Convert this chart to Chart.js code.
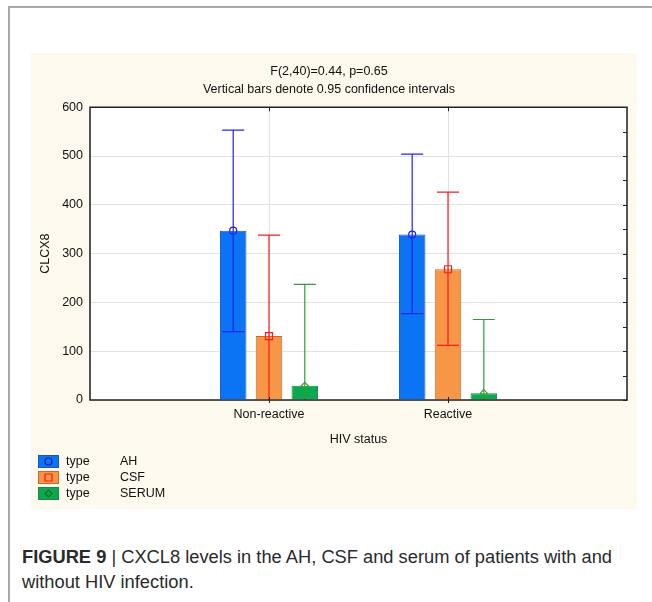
<!DOCTYPE html>
<html>
<head>
<meta charset="utf-8">
<script src="https://cdn.jsdelivr.net/npm/chart.js@4.4.1/dist/chart.umd.min.js"></script>
<style>
    body { margin: 0; background: #fff; width: 652px; height: 602px; overflow: hidden; position: relative; font-family: "Liberation Sans", Arial, sans-serif; }
    #frame { position: absolute; left: 8px; top: 6px; width: 660px; height: 620px; border-top: 2px solid #a8a8a8; border-left: 2px solid #a8a8a8; }
    #panel { position: absolute; left: 31px; top: 53px; width: 606px; height: 456px; background: #fdf9ee; }
    #caption { position: absolute; left: 22px; top: 544px; font-size: 18.3px; line-height: 25px; color: #2a2a2a; white-space: nowrap; }
    #caption b { font-weight: bold; }
</style>
</head>
<body>
<div id="frame"></div>
<div id="panel"><canvas id="chart" width="606" height="456"></canvas></div>
<div id="caption"><b>FIGURE 9</b> | CXCL8 levels in the AH, CSF and serum of patients with and<br>without HIV infection.</div>
<script>
const $ = id => document.getElementById(id);

// 数据
const groups = ['Non-reactive', 'Reactive'];
const yTicks = [0, 100, 200, 300, 400, 500, 600];
const ahMean = [347, 339];
const ahLow = [140, 177];
const ahHigh = [553, 504];
const csfMean = [131, 268];
const csfLow = [-76, 112];
const csfHigh = [338, 426];
const serumMean = [29, 14];
const serumLow = [-179, -137];
const serumHigh = [237, 165];

// 两边各留一个空类别
const pad = arr => [null, ...arr, null];
const labels = ['', ...groups, ''];

const series = [
    {name: 'AH', mean: ahMean, low: ahLow, high: ahHigh, fill: '#0a74f5', border: '#1a55c8', line: '#2222ee', legendMark: '#1a1aa0', marker: 'circle'},
    {name: 'CSF', mean: csfMean, low: csfLow, high: csfHigh, fill: '#f79646', border: '#c46c2c', line: '#ff1a1a', legendMark: '#ff1a1a', marker: 'rect'},
    {name: 'SERUM', mean: serumMean, low: serumLow, high: serumHigh, fill: '#0aa84f', border: '#1b8a3b', line: '#2e9e3a', legendMark: '#156b2a', marker: 'diamond'}
];

const FONT = '"Liberation Sans", Arial, sans-serif';

const drawMarker = (ctx, type, x, y, color) => {
    ctx.save();
    ctx.strokeStyle = color;
    ctx.lineWidth = 1.2;
    ctx.beginPath();
    if (type === 'circle') {
        ctx.arc(x, y, 3.5, 0, Math.PI * 2);
    } else if (type === 'rect') {
        ctx.rect(x - 3.5, y - 3.5, 7, 7);
    } else {
        ctx.moveTo(x, y - 3.5);
        ctx.lineTo(x + 3.5, y);
        ctx.lineTo(x, y + 3.5);
        ctx.lineTo(x - 3.5, y);
        ctx.closePath();
    }
    ctx.stroke();
    ctx.restore();
};

const bgPlugin = {
    id: 'bg',
    beforeDraw(chart) {
        const {ctx, chartArea: a} = chart;
        ctx.save();
        ctx.fillStyle = '#ffffff';
        ctx.fillRect(a.left, a.top, a.right - a.left, a.bottom - a.top);
        ctx.restore();
    }
};

const errorBarPlugin = {
    id: 'errorBars',
    afterDatasetsDraw(chart) {
        const {ctx, chartArea: a, scales: {x, y}} = chart;
        series.forEach((s, di) => {
            const meta = chart.getDatasetMeta(di);
            s.mean.forEach((m, i) => {
                const bx = meta.data[i + 1].x;
                const lo = s.low[i], hi = s.high[i];
                const yTop = y.getPixelForValue(Math.min(hi, y.max));
                const yBot = y.getPixelForValue(Math.max(lo, y.min));
                const cap = 11;
                ctx.save();
                ctx.strokeStyle = s.line;
                ctx.lineWidth = 1.2;
                ctx.beginPath();
                ctx.moveTo(bx, yTop);
                ctx.lineTo(bx, yBot);
                if (hi <= y.max) { ctx.moveTo(bx - cap, yTop); ctx.lineTo(bx + cap, yTop); }
                if (lo >= y.min) { ctx.moveTo(bx - cap, yBot); ctx.lineTo(bx + cap, yBot); }
                ctx.stroke();
                ctx.restore();
                drawMarker(ctx, s.marker, bx, y.getPixelForValue(m), s.line);
            });
        });

        // 边框和刻度
        ctx.save();
        ctx.strokeStyle = '#222';
        ctx.lineWidth = 1.5;
        ctx.strokeRect(a.left, a.top, a.right - a.left, a.bottom - a.top);
        ctx.lineWidth = 1;
        ctx.beginPath();
        for (let v = y.min; v <= y.max; v += 50) {
            const py = Math.round(y.getPixelForValue(v)) + 0.5;
            ctx.moveTo(a.right - 4, py);
            ctx.lineTo(a.right, py);
        }
        groups.forEach((g, i) => {
            const px = Math.round(x.getPixelForValue(i + 1)) + 0.5;
            ctx.moveTo(px, a.top);
            ctx.lineTo(px, a.top + 4);
            ctx.moveTo(px, a.bottom - 3);
            ctx.lineTo(px, a.bottom + 3);
        });
        ctx.stroke();
        ctx.restore();
    }
};

const legendPlugin = {
    id: 'customLegend',
    afterDraw(chart) {
        const {ctx} = chart;
        ctx.save();
        ctx.font = '12.5px ' + FONT;
        ctx.textBaseline = 'middle';
        series.forEach((s, i) => {
            const top = 402 + i * 16;
            ctx.fillStyle = s.fill;
            ctx.fillRect(7, top, 21, 13);
            ctx.strokeStyle = s.border;
            ctx.lineWidth = 1;
            ctx.strokeRect(7.5, top + 0.5, 20, 12);
            drawMarker(ctx, s.marker, 17.5, top + 6.5, s.legendMark);
            ctx.fillStyle = '#111';
            ctx.fillText('type', 35, top + 7);
            ctx.fillText(s.name, 89, top + 7);
        });
        ctx.restore();
    }
};

Chart.defaults.font.family = FONT;
Chart.defaults.font.size = 12.5;
Chart.defaults.color = '#111';

new Chart($('chart').getContext('2d'), {
    type: 'bar',
    data: {
        labels: labels,
        datasets: series.map(s => ({
            label: s.name,
            data: pad(s.mean),
            backgroundColor: s.fill,
            borderColor: s.border,
            borderWidth: 1,
            categoryPercentage: 0.6,
            barPercentage: 0.74
        }))
    },
    options: {
        responsive: false,
        animation: false,
        layout: {padding: {left: 0, right: 10, top: 0, bottom: 62}},
        plugins: {
            legend: {display: false},
            tooltip: {enabled: false},
            title: {
                display: true,
                text: ['F(2,40)=0.44, p=0.65', 'Vertical bars denote 0.95 confidence intervals'],
                font: {size: 12.5, weight: 'normal', lineHeight: 1.45},
                color: '#111',
                padding: {top: 9, bottom: 9}
            }
        },
        scales: {
            x: {
                offset: false,
                grid: {color: '#e2e2e2', drawTicks: false, offset: false},
                border: {display: false},
                ticks: {padding: 7, maxRotation: 0, autoSkip: false},
                title: {display: true, text: 'HIV status', font: {size: 12.5}, padding: {top: 3, bottom: 0}}
            },
            y: {
                min: 0,
                max: 600,
                grid: {color: '#e2e2e2', drawTicks: false},
                border: {display: false},
                afterBuildTicks: scale => { scale.ticks = yTicks.map(v => ({value: v})); },
                afterFit: scale => { scale.width = 59; },
                ticks: {padding: 7},
                title: {display: true, text: 'CLCX8', font: {size: 12.5}, padding: {top: 7, bottom: 0}}
            }
        }
    },
    plugins: [bgPlugin, errorBarPlugin, legendPlugin]
});
</script>
</body>
</html>
